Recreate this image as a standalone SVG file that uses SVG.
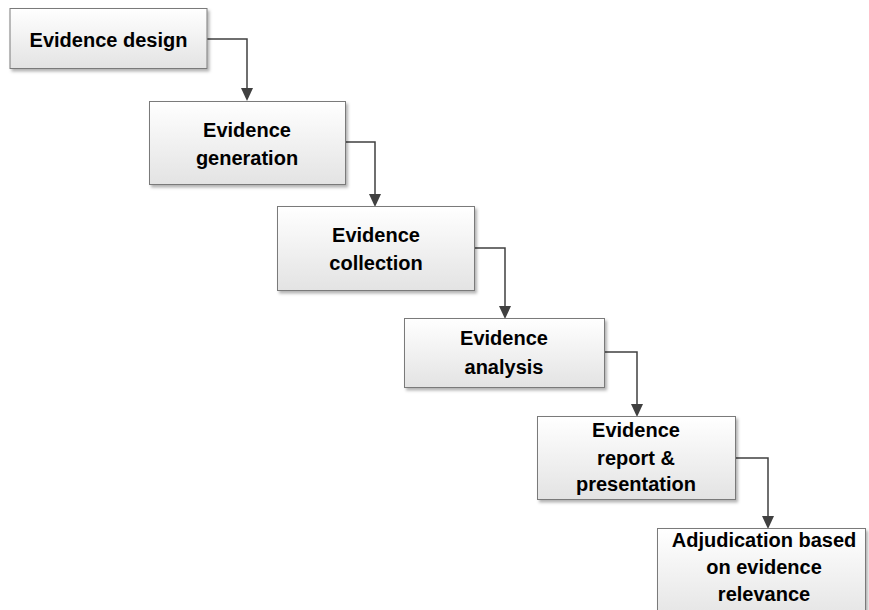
<svg xmlns="http://www.w3.org/2000/svg" width="869" height="610" viewBox="0 0 869 610">
  <defs>
    <linearGradient id="boxFill" x1="0" y1="0" x2="0" y2="1">
      <stop offset="0" stop-color="#ffffff"/>
      <stop offset="1" stop-color="#e3e3e3"/>
    </linearGradient>
    <filter id="shadow" x="-10%" y="-10%" width="130%" height="140%">
      <feDropShadow dx="2" dy="2.5" stdDeviation="1.5" flood-color="#000" flood-opacity="0.3"/>
    </filter>
  </defs>
  <style>
    .box { fill: url(#boxFill); stroke: #7a7a7a; stroke-width: 1; filter: url(#shadow); }
    .label { font-family: "Liberation Sans", Arial, sans-serif; font-weight: bold; font-size: 20px; fill: #000; text-anchor: middle; }
    .conn { fill: none; stroke: #404040; stroke-width: 1.5; }
    .head { fill: #404040; }
  </style>
  <rect width="869" height="610" fill="#ffffff"/>

  <!-- elbow connectors: right side of each step down to the top of the next -->
  <g id="connectors">
    <path class="conn" d="M207,39 H247 V89"/>
    <path class="conn" d="M345,142 H375 V195"/>
    <path class="conn" d="M474,248 H505 V307"/>
    <path class="conn" d="M604,352 H637 V405"/>
    <path class="conn" d="M735,458 H768 V517"/>
    <path class="head" d="M241,88 H253 L247,101 Z"/>
    <path class="head" d="M369,194 H381 L375,207 Z"/>
    <path class="head" d="M499,306 H511 L505,319 Z"/>
    <path class="head" d="M631,404 H643 L637,417 Z"/>
    <path class="head" d="M762,516 H774 L768,529 Z"/>
  </g>

  <g id="evidence-design">
    <rect class="box" x="10" y="8.5" width="197" height="60"/>
    <text class="label" x="108.5" y="47">Evidence design</text>
  </g>

  <g id="evidence-generation">
    <rect class="box" x="149.5" y="101.5" width="196" height="83"/>
    <text class="label" x="247" y="137">Evidence</text>
    <text class="label" x="247" y="165">generation</text>
  </g>

  <g id="evidence-collection">
    <rect class="box" x="277.5" y="206.5" width="197" height="84"/>
    <text class="label" x="376" y="242">Evidence</text>
    <text class="label" x="376" y="270">collection</text>
  </g>

  <g id="evidence-analysis">
    <rect class="box" x="404.5" y="318.5" width="200" height="69"/>
    <text class="label" x="504" y="345">Evidence</text>
    <text class="label" x="504" y="374">analysis</text>
  </g>

  <g id="evidence-report">
    <rect class="box" x="537.5" y="416.5" width="198" height="83"/>
    <text class="label" x="636" y="437">Evidence</text>
    <text class="label" x="636" y="465">report &amp;</text>
    <text class="label" x="636" y="491">presentation</text>
  </g>

  <g id="adjudication">
    <rect class="box" x="657.5" y="528.5" width="208" height="95"/>
    <text class="label" x="764" y="547">Adjudication based</text>
    <text class="label" x="764" y="574">on evidence</text>
    <text class="label" x="764" y="601">relevance</text>
  </g>
</svg>
